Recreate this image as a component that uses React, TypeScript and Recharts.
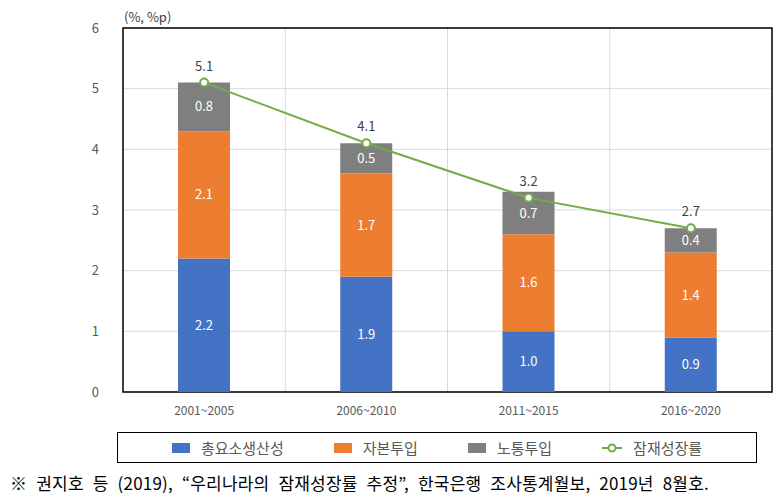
import {
  ComposedChart,
  Bar,
  Line,
  XAxis,
  YAxis,
  CartesianGrid,
  LabelList,
  ReferenceArea,
} from 'recharts';

const periods = ['2001~2005', '2006~2010', '2011~2015', '2016~2020'];
const tfp = [2.2, 1.9, 1.0, 0.9];
const capital = [2.1, 1.7, 1.6, 1.4];
const labor = [0.8, 0.5, 0.7, 0.4];
const potential = [5.1, 4.1, 3.2, 2.7];
const yTicks = [0, 1, 2, 3, 4, 5, 6];

const seriesNames = ['총요소생산성', '자본투입', '노통투입', '잠재성장률'];
const colors = ['#4472c4', '#ed7d31', '#7f7f7f', '#70ad47'];

const data = periods.map((p, i) => ({
  period: p,
  tfp: tfp[i],
  capital: capital[i],
  labor: labor[i],
  potential: potential[i],
}));

const font = '"Noto Sans CJK KR", "Noto Sans", sans-serif';
const fmt = (v: number) => Number(v).toFixed(1);

export default function App() {
  return (
    <div
      style={{
        position: 'fixed',
        left: 0,
        top: 0,
        width: 783,
        height: 502,
        background: '#fff',
        fontFamily: font,
      }}
    >
      <div style={{ position: 'absolute', left: 124, top: 7, fontSize: 13, color: '#404040' }}>
        (%, %p)
      </div>
      <ComposedChart
        width={783}
        height={420}
        data={data}
        margin={{ top: 28, right: 11, bottom: 0, left: 0 }}
        style={{ fontFamily: font }}
      >
        <CartesianGrid
          stroke="#d9d9d9"
          verticalCoordinatesGenerator={({ offset }: any) =>
            periods.map((_, i) => offset.left + (offset.width * i) / periods.length).slice(1)
          }
        />
        <XAxis
          dataKey="period"
          tickLine={false}
          axisLine={false}
          height={28}
          tick={{ fill: '#595959', fontSize: 12 }}
          tickMargin={8}
        />
        <YAxis
          width={123}
          domain={[0, 6]}
          ticks={yTicks}
          tickLine={false}
          axisLine={false}
          tickMargin={18}
          tick={{ fill: '#595959', fontSize: 13 }}
        />
        <Bar dataKey="tfp" stackId="a" fill={colors[0]} barSize={52} isAnimationActive={false}>
          <LabelList dataKey="tfp" position="center" fill="#fff" fontSize={13} formatter={fmt} />
        </Bar>
        <Bar dataKey="capital" stackId="a" fill={colors[1]} barSize={52} isAnimationActive={false}>
          <LabelList dataKey="capital" position="center" fill="#fff" fontSize={13} formatter={fmt} />
        </Bar>
        <Bar dataKey="labor" stackId="a" fill={colors[2]} barSize={52} isAnimationActive={false}>
          <LabelList dataKey="labor" position="center" fill="#fff" fontSize={13} formatter={fmt} />
        </Bar>
        <Line
          dataKey="potential"
          stroke={colors[3]}
          strokeWidth={2}
          dot={{ r: 4, fill: '#fff', stroke: colors[3], strokeWidth: 2 }}
          isAnimationActive={false}
        >
          <LabelList dataKey="potential" position="top" offset={12} fill="#404040" fontSize={13} formatter={fmt} />
        </Line>
        <ReferenceArea y1={0} y2={6} fill="none" stroke="#000" strokeWidth={1.5} ifOverflow="visible" />
      </ComposedChart>
      <div
        style={{
          position: 'absolute',
          left: 117,
          top: 432,
          width: 638,
          height: 29,
          border: '1px solid #000',
          display: 'flex',
          alignItems: 'center',
          justifyContent: 'center',
          gap: 50,
          fontSize: 15,
          color: '#595959',
        }}
      >
        {seriesNames.map((name, i) => (
          <div key={name} style={{ display: 'flex', alignItems: 'center', gap: 11 }}>
            {i < 3 ? (
              <div style={{ width: 18, height: 10, background: colors[i] }} />
            ) : (
              <svg width={20} height={10}>
                <line x1={0} y1={5} x2={20} y2={5} stroke={colors[3]} strokeWidth={2} />
                <circle cx={10} cy={5} r={3.5} fill="#fff" stroke={colors[3]} strokeWidth={2} />
              </svg>
            )}
            <span>{name}</span>
          </div>
        ))}
      </div>
      <div
        style={{
          position: 'absolute',
          left: 10,
          top: 470,
          fontSize: 17,
          wordSpacing: 5,
          letterSpacing: 0.2,
          color: '#000',
          whiteSpace: 'nowrap',
        }}
      >
        ※ 권지호 등 (2019), “우리나라의 잠재성장률 추정”, 한국은행 조사통계월보, 2019년 8월호.
      </div>
    </div>
  );
}
